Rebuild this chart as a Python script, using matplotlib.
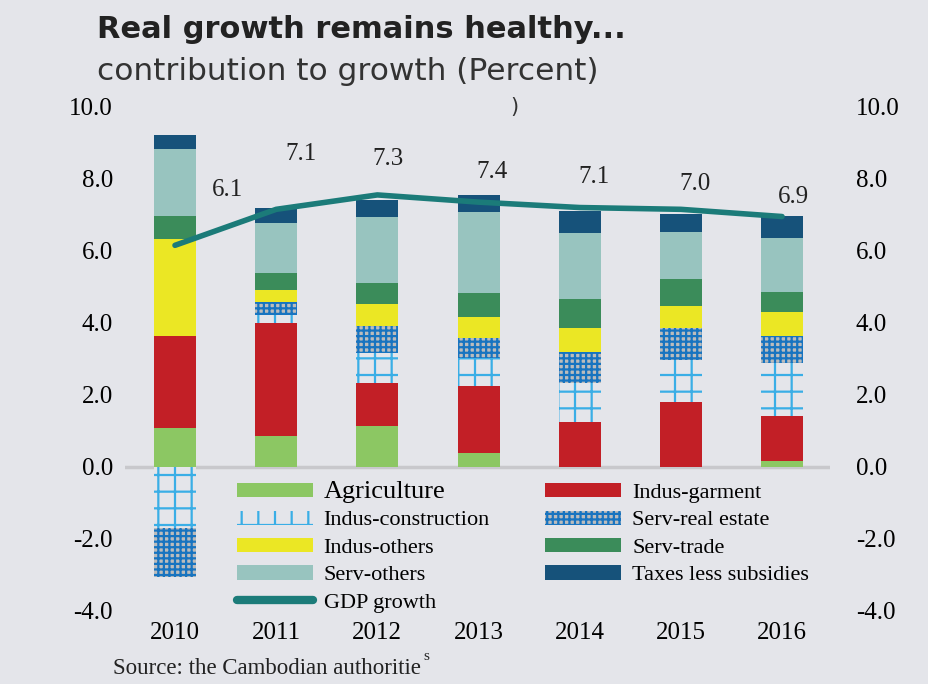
import matplotlib
matplotlib.use("Agg")
import numpy as np
import matplotlib.pyplot as plt
from matplotlib.patches import Patch
from matplotlib.lines import Line2D

years = ["2010", "2011", "2012", "2013", "2014", "2015", "2016"]

agriculture = [1.08, 0.86, 1.14, 0.39, 0.0, 0.0, 0.17]
indus_garment = [2.56, 3.14, 1.19, 1.86, 1.25, 1.81, 1.25]
indus_construction = [-1.69, 0.22, 0.83, 0.78, 1.08, 1.16, 1.47]
serv_real_estate = [-1.36, 0.36, 0.75, 0.56, 0.86, 0.89, 0.75]
indus_others = [2.69, 0.33, 0.61, 0.56, 0.67, 0.61, 0.67]
serv_trade = [0.64, 0.47, 0.58, 0.67, 0.81, 0.75, 0.55]
serv_others = [1.86, 1.39, 1.83, 2.25, 1.83, 1.31, 1.50]
taxes = [0.39, 0.42, 0.47, 0.47, 0.61, 0.50, 0.61]

gdp_line = [6.15, 7.15, 7.55, 7.35, 7.2, 7.15, 6.95]
gdp_labels = ["6.1", "7.1", "7.3", "7.4", "7.1", "7.0", "6.9"]

BG = "#e4e5ea"
SERIF = "Liberation Serif"

plt.rcParams["hatch.linewidth"] = 1.6

fig = plt.figure(figsize=(9.29, 6.84), dpi=100, facecolor=BG)
ax = fig.add_axes([0.135, 0.107, 0.758, 0.737], facecolor=BG)

x = np.arange(len(years))
w = 0.415

# stacking: positives go up, negatives go down
pos_base = np.zeros(len(years))
neg_base = np.zeros(len(years))

series = [
    (agriculture, "Agriculture", "#8cc763", None, None),
    (indus_garment, "Indus-garment", "#c21f26", None, None),
    (indus_construction, "Indus-construction", BG, "+", "#3aaee6"),
    (serv_real_estate, "Serv-real estate", "#bcbcbc", "+++", "#1874c0"),
    (indus_others, "Indus-others", "#ebe724", None, None),
    (serv_trade, "Serv-trade", "#3b8c5a", None, None),
    (serv_others, "Serv-others", "#98c4bf", None, None),
    (taxes, "Taxes less subsidies", "#16527a", None, None),
]

handles = {}
for vals, name, color, hatch, hcolor in series:
    vals = np.array(vals)
    base = np.where(vals >= 0, pos_base, neg_base)
    if hatch:
        ax.bar(x, vals, w, bottom=base, color=color, hatch=hatch,
               edgecolor=hcolor, linewidth=0, zorder=2)
        handles[name] = Patch(facecolor=color, hatch=hatch, edgecolor=hcolor, linewidth=0)
    else:
        ax.bar(x, vals, w, bottom=base, color=color, linewidth=0, zorder=2)
        handles[name] = Patch(facecolor=color, linewidth=0)
    pos_base = pos_base + np.where(vals >= 0, vals, 0)
    neg_base = neg_base + np.where(vals < 0, vals, 0)

ax.axhline(0, color="#c8c8cc", lw=2.5, zorder=1)

ax.plot(x, gdp_line, color="#1b7b79", lw=4, solid_capstyle="round", zorder=3)
handles["GDP growth"] = Line2D([0], [0], color="#1b7b79", lw=6, solid_capstyle="round")

label_offsets = [(38, 40), (18, 40), (8, 26), (10, 22), (10, 22), (10, 18), (8, 14)]
for i, (lab, off) in enumerate(zip(gdp_labels, label_offsets)):
    ax.annotate(lab, (x[i], gdp_line[i]), xytext=off, textcoords="offset points",
                ha="center", va="center", fontsize=18, family=SERIF, color="#222222")

ticks = np.arange(-4, 10.1, 2)
ax.set_xlim(-0.49, 6.47)
ax.set_ylim(-4, 10)
ax.set_xticks(x)
ax.set_xticklabels(years, family=SERIF, fontsize=18)
ax.set_yticks(ticks)
ax.set_yticklabels([f"{v:.1f}" for v in ticks], family=SERIF, fontsize=18)
ax.tick_params(axis="both", length=0)
ax.tick_params(axis="x", pad=8)
ax.tick_params(axis="y", pad=9)
for s in ax.spines.values():
    s.set_visible(False)

ax2 = ax.twinx()
ax2.set_ylim(-4, 10)
ax2.set_yticks(ticks)
ax2.set_yticklabels([f"{v:.1f}" for v in ticks], family=SERIF, fontsize=18)
ax2.tick_params(axis="y", length=0, pad=19)
for s in ax2.spines.values():
    s.set_visible(False)

order = ["Agriculture", "Indus-construction", "Indus-others", "Serv-others", "GDP growth",
         "Indus-garment", "Serv-real estate", "Serv-trade", "Taxes less subsidies"]
leg = fig.legend([handles[k] for k in order], order, ncol=2, loc="upper left",
                 bbox_to_anchor=(237 / 929, 1 - 481 / 684), frameon=False,
                 prop={"family": SERIF, "size": 16}, handlelength=3.4, handleheight=0.6,
                 labelspacing=0.34, columnspacing=2.5, handletextpad=0.5,
                 borderpad=0, borderaxespad=0)
leg.get_texts()[0].set_fontsize(19)

fig.text(97 / 929, 1 - 30 / 684, "Real growth remains healthy...", fontsize=22,
         fontweight="bold", family="DejaVu Sans", va="center", color="#222222")
fig.text(97 / 929, 1 - 72 / 684, "contribution to growth (Percent)", fontsize=22.5,
         family="DejaVu Sans", va="center", color="#333333")
fig.text(510 / 929, 1 - 107 / 684, ")", fontsize=15, family="DejaVu Sans", va="center", color="#333333")
src = fig.text(113 / 929, 1 - 668 / 684, "Source: the Cambodian authoritie", fontsize=16.5,
               family=SERIF, va="center", color="#222222")
ax.annotate("s", xy=(1, 1), xycoords=src, xytext=(2, -4), textcoords="offset points",
            fontsize=11, family=SERIF, va="bottom", color="#222222", annotation_clip=False)

fig.savefig("out.png", dpi=100, facecolor=BG)
